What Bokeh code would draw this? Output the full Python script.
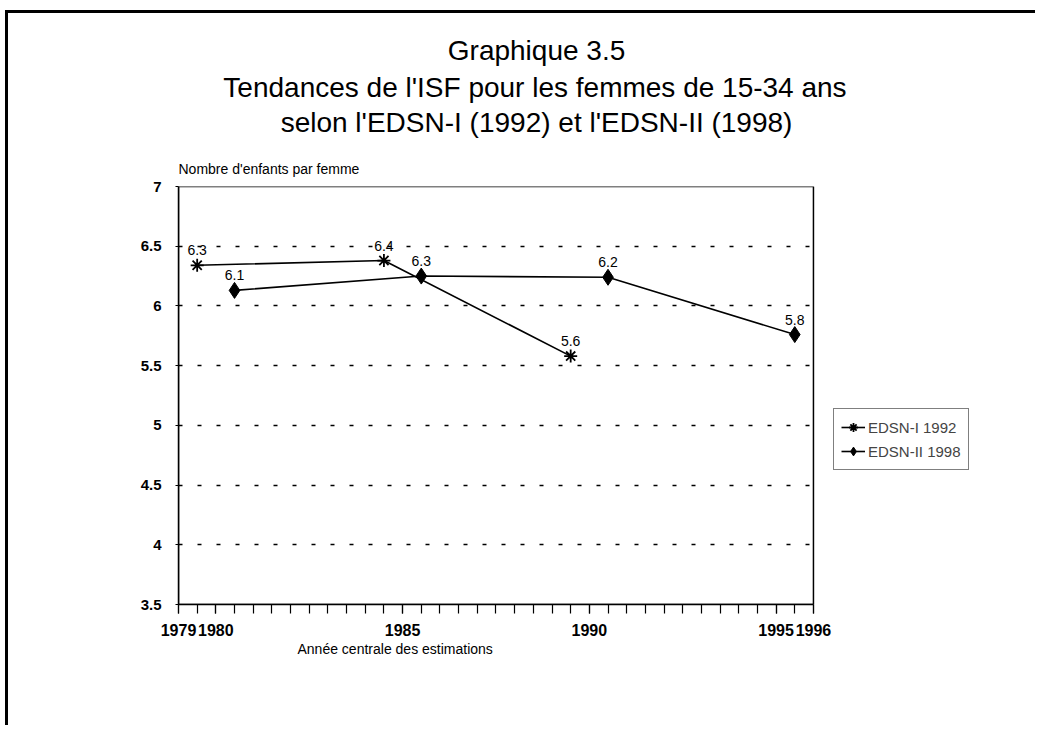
from bokeh.plotting import figure
from bokeh.models import (Range1d, FixedTicker, Title, Legend, LegendItem, ColumnDataSource,
                          BoxAnnotation)
from bokeh.core.properties import value
from bokeh.embed import file_html
from bokeh.resources import INLINE

# ---- data ----
years_1992 = [1979.5, 1984.5, 1989.5]
isf_1992 = [6.34, 6.38, 5.58]
labels_1992 = ["6.3", "6.4", "5.6"]

years_1998 = [1980.5, 1985.5, 1990.5, 1995.5]
isf_1998 = [6.13, 6.25, 6.24, 5.76]
labels_1998 = ["6.1", "6.3", "6.2", "5.8"]

x_ticks = [1979, 1980, 1985, 1990, 1995, 1996]
y_ticks = [3.5, 4, 4.5, 5, 5.5, 6, 6.5, 7]
series_names = ["EDSN-I 1992", "EDSN-II 1998"]
title_lines = ["Graphique 3.5",
               "Tendances de l'ISF pour les femmes de 15-34 ans",
               "selon l'EDSN-I (1992) et l'EDSN-II (1998)"]
y_title = "Nombre d'enfants par femme"
x_title = "Année centrale des estimations"

FONT = "Liberation Sans"
X0, X1 = 1979, 1996          # plotted axis span
Y0, Y1 = 3.5, 7
PX_PER_YEAR = 37.35
FRAME_W = 802                # frame extends right to hold the legend
FRAME_H = 418

p = figure(width=1030, height=715, output_backend="svg", toolbar_location=None,
           x_range=Range1d(X0, X0 + FRAME_W / PX_PER_YEAR), y_range=Range1d(Y0, Y1),
           min_border_left=170, min_border_right=1030 - 170 - FRAME_W,
           min_border_top=173, min_border_bottom=715 - 173 - FRAME_H,
           styles={"border-left": "3px solid black", "border-top": "3px solid black",
                   "margin-left": "5px", "margin-top": "10px"})
p.background_fill_color = "white"
p.border_fill_color = "white"
p.outline_line_color = None

# plot area border
p.add_layout(BoxAnnotation(left=X0, right=X1, bottom=Y0, top=Y1, fill_alpha=0,
                           line_color="black", line_width=1.5, line_alpha=1))

# axes
p.xaxis.ticker = FixedTicker(ticks=x_ticks, minor_ticks=[X0 + 0.5 * i for i in range(35)])
p.xaxis.bounds = (X0, X1)
p.yaxis.ticker = FixedTicker(ticks=y_ticks)
for ax in (p.xaxis, p.yaxis):
    ax.axis_line_color = "black"
    ax.axis_line_width = 1.5
    ax.major_tick_line_color = "black"
    ax.major_tick_line_width = 1.2
    ax.minor_tick_line_color = "black"
    ax.minor_tick_line_width = 1.2
    ax.major_label_text_font = FONT
    ax.major_label_text_font_size = "15px"
    ax.major_label_text_font_style = "bold"
    ax.major_label_text_color = "black"
    ax.major_tick_in = 0
p.xaxis.major_label_text_font_size = "16px"
p.xaxis.major_tick_out = 9
p.xaxis.minor_tick_out = 9
p.xaxis.minor_tick_in = 0
p.xaxis.major_label_standoff = 10
p.yaxis.major_tick_out = 3
p.yaxis.minor_tick_line_color = None
p.yaxis.major_label_standoff = 14

# grid
p.xgrid.grid_line_color = None
p.ygrid.ticker = FixedTicker(ticks=[4, 4.5, 5, 5.5, 6, 6.5])
p.ygrid.cross_bounds = (X0, X1)
p.ygrid.grid_line_color = "black"
p.ygrid.grid_line_width = 1.6
p.ygrid.grid_line_dash = "4 15"

# series
s1 = ColumnDataSource(dict(x=years_1992, y=isf_1992, t=labels_1992))
s2 = ColumnDataSource(dict(x=years_1998, y=isf_1998, t=labels_1998))
l1 = p.line("x", "y", source=s1, line_color="black", line_width=1.6)
m1 = p.scatter("x", "y", source=s1, marker="asterisk", size=13, line_color="black", line_width=1.8)
l2 = p.line("x", "y", source=s2, line_color="black", line_width=1.6)
m2 = p.scatter("x", "y", source=s2, marker="diamond", size=16, fill_color="black", line_color="black")

for s in (s1, s2):
    p.text("x", "y", text="t", source=s, text_font=value(FONT), text_font_size="14px",
           text_align="center", text_baseline="middle", y_offset=-15, text_color="black")

# legend
legend = Legend(items=[LegendItem(label=series_names[0], renderers=[l1, m1]),
                       LegendItem(label=series_names[1], renderers=[l2, m2])],
                location=(655, 134), border_line_color="black", border_line_width=1.5,
                background_fill_alpha=1, label_text_font=FONT, label_text_font_size="15px",
                glyph_width=24, glyph_height=22, label_standoff=3, padding=7, spacing=2,
                margin=0, label_height=22)
p.add_layout(legend, "center")

# titles (above panel, stacked from frame upward)
p.add_layout(Title(text=y_title, align="left", offset=0, text_font=FONT, text_color="black",
                   text_font_size="14px", text_font_style="normal", standoff=20), "above")
p.add_layout(Title(text=" ", align="left", offset=0, text_font=FONT,
                   text_font_size="8px", standoff=0), "above")
title_widths_em = [6.337, 22.368, 18.276]
title_standoffs = [4, 4, 0]
fs = 28
center_from_frame_left = 358
for i in (2, 1, 0):
    off = center_from_frame_left - title_widths_em[i] * fs / 2
    p.add_layout(Title(text=title_lines[i], align="left", offset=off, text_font=FONT,
                       text_color="black", text_font_size=f"{fs}px", text_font_style="normal",
                       standoff=title_standoffs[i]), "above")

# x axis title (below panel)
p.add_layout(Title(text=x_title, align="left", offset=119, text_font=FONT, text_color="black",
                   text_font_size="14px", text_font_style="normal", standoff=0), "below")

open("out.html", "w").write(file_html(p, INLINE))
